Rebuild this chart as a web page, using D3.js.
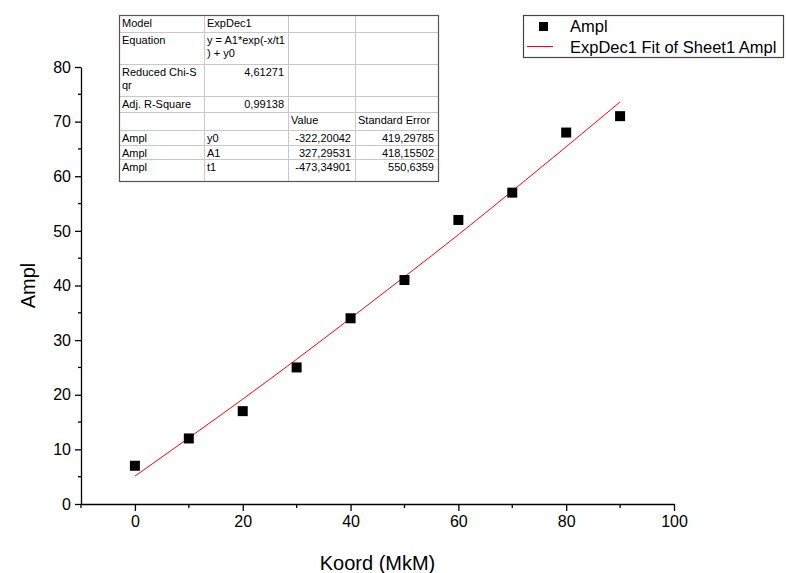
<!DOCTYPE html>
<html>
<head>
<meta charset="utf-8">
<script src="https://cdn.jsdelivr.net/npm/d3@7"></script>
<style>
  body { margin: 0; background: #fff; }
  svg { font-family: Arial, "Liberation Sans", sans-serif; }
</style>
</head>
<body>
<svg id="chart" width="786" height="573"></svg>
<script>
// measured points
var koord = [0, 10, 20, 30, 40, 50, 60, 70, 80, 90];
var ampl = [7, 12, 17, 25, 34, 41, 52, 57, 68, 71];

// fit curve
var fitX = [0, 10, 20, 30, 40, 50, 60, 70, 80, 90];
var fitY = [5.1, 12.1, 19.2, 26.5, 34.0, 41.6, 49.3, 57.3, 65.4, 73.6];

var xTicks = [0, 20, 40, 60, 80, 100];
var yTicks = [0, 10, 20, 30, 40, 50, 60, 70, 80];

// fit table rows
var tableRows = [
  ["Model", "ExpDec1", "", ""],
  ["Equation", "y = A1*exp(-x/t1\n) + y0", "", ""],
  ["Reduced Chi-S\nqr", "4,61271", "", ""],
  ["Adj. R-Square", "0,99138", "", ""],
  ["", "", "Value", "Standard Error"],
  ["Ampl", "y0", "-322,20042", "419,29785"],
  ["Ampl", "A1", "327,29531", "418,15502"],
  ["Ampl", "t1", "-473,34901", "550,6359"]
];

var svg = d3.select("#chart");

var x = d3.scaleLinear().domain([-10, 100]).range([81, 674]);
var y = d3.scaleLinear().domain([0, 80]).range([504, 67]);

// x axis, major + minor ticks
var xAxis = d3.axisBottom(x).tickValues(xTicks).tickSize(7).tickSizeOuter(0).tickPadding(5);
var gx = svg.append("g")
  .attr("class", "axis")
  .attr("transform", "translate(0," + y(0) + ")")
  .call(xAxis);
gx.append("g").selectAll("line")
  .data([-10, 10, 30, 50, 70, 90])
  .enter().append("line")
  .attr("x1", function(d) { return x(d); })
  .attr("x2", function(d) { return x(d); })
  .attr("y1", 0).attr("y2", 4)
  .attr("stroke", "#000");

// y axis
var yAxis = d3.axisLeft(y).tickValues(yTicks).tickSize(6).tickSizeOuter(0).tickPadding(4);
var gy = svg.append("g")
  .attr("class", "axis")
  .attr("transform", "translate(" + x(-10) + ",0)")
  .call(yAxis);
gy.append("g").selectAll("line")
  .data([5, 15, 25, 35, 45, 55, 65, 75])
  .enter().append("line")
  .attr("y1", function(d) { return y(d); })
  .attr("y2", function(d) { return y(d); })
  .attr("x1", 0).attr("x2", -3)
  .attr("stroke", "#000");

svg.selectAll(".axis path, .axis line").attr("stroke", "#000").attr("stroke-width", 1.3);
svg.selectAll(".axis text").attr("font-size", "16px").attr("fill", "#000")
  .attr("font-family", "Arial, 'Liberation Sans', sans-serif");

// axis titles
svg.append("text")
  .attr("x", (x(-10) + x(100)) / 2)
  .attr("y", 570)
  .attr("text-anchor", "middle")
  .attr("font-size", "20px")
  .text("Koord (MkM)");

svg.append("text")
  .attr("transform", "translate(35," + (y(40)) + ") rotate(-90)")
  .attr("text-anchor", "middle")
  .attr("font-size", "20px")
  .text("Ampl");

// fit line
var line = d3.line()
  .x(function(d, i) { return x(fitX[i]); })
  .y(function(d) { return y(d); })
  .curve(d3.curveMonotoneX);

svg.append("path")
  .datum(fitY)
  .attr("d", line)
  .attr("fill", "none")
  .attr("stroke", "#ff0000")
  .attr("stroke-width", 1);

// points
svg.selectAll("rect.pt")
  .data(ampl)
  .enter().append("rect")
  .attr("class", "pt")
  .attr("x", function(d, i) { return x(koord[i]) - 5; })
  .attr("y", function(d) { return y(d) - 5; })
  .attr("width", 10)
  .attr("height", 10)
  .attr("fill", "#000");

// table
var colEdges = [119, 204, 288, 355, 438];
var rowEdges = [15, 32, 64, 96, 112, 130, 145, 159, 181];
var tbl = svg.append("g");

tbl.append("rect")
  .attr("x", colEdges[0]).attr("y", rowEdges[0])
  .attr("width", colEdges[4] - colEdges[0])
  .attr("height", rowEdges[8] - rowEdges[0])
  .attr("fill", "#fff");

for (var r = 1; r < rowEdges.length - 1; r++) {
  tbl.append("line")
    .attr("x1", colEdges[0]).attr("x2", colEdges[4])
    .attr("y1", rowEdges[r] + 0.5).attr("y2", rowEdges[r] + 0.5)
    .attr("stroke", "#c8c8c8");
}
for (var c = 1; c < colEdges.length - 1; c++) {
  tbl.append("line")
    .attr("x1", colEdges[c] + 0.5).attr("x2", colEdges[c] + 0.5)
    .attr("y1", rowEdges[0]).attr("y2", rowEdges[8])
    .attr("stroke", "#c8c8c8");
}
tbl.append("rect")
  .attr("x", colEdges[0] + 0.5).attr("y", rowEdges[0] + 0.5)
  .attr("width", colEdges[4] - colEdges[0])
  .attr("height", rowEdges[8] - rowEdges[0])
  .attr("fill", "none")
  .attr("stroke", "#555")
  .attr("stroke-width", 1.2);

tableRows.forEach(function(row, ri) {
  row.forEach(function(cell, ci) {
    if (cell === "") return;
    var numeric = /^-?[0-9]+,[0-9]+$/.test(cell);
    var t = tbl.append("text")
      .attr("font-size", "11px")
      .attr("fill", "#000")
      .attr("text-anchor", numeric ? "end" : "start");
    var tx = numeric ? colEdges[ci + 1] - 4 : colEdges[ci] + 3;
    cell.split("\n").forEach(function(part, k) {
      t.append("tspan")
        .attr("x", tx)
        .attr("y", rowEdges[ri] + 12 + k * 13)
        .text(part);
    });
  });
});

// legend
var lg = svg.append("g");
lg.append("rect")
  .attr("x", 523.5).attr("y", 15.5)
  .attr("width", 260).attr("height", 42)
  .attr("fill", "#fff")
  .attr("stroke", "#444")
  .attr("stroke-width", 1.2);
lg.append("rect")
  .attr("x", 539).attr("y", 22)
  .attr("width", 9).attr("height", 9)
  .attr("fill", "#000");
lg.append("text")
  .attr("x", 570).attr("y", 32)
  .attr("font-size", "16.5px")
  .text("Ampl");
lg.append("line")
  .attr("x1", 527).attr("x2", 553)
  .attr("y1", 46.5).attr("y2", 46.5)
  .attr("stroke", "#ff0000");
lg.append("text")
  .attr("x", 570).attr("y", 53)
  .attr("font-size", "16.5px")
  .text("ExpDec1 Fit of Sheet1 Ampl");
</script>
</body>
</html>
